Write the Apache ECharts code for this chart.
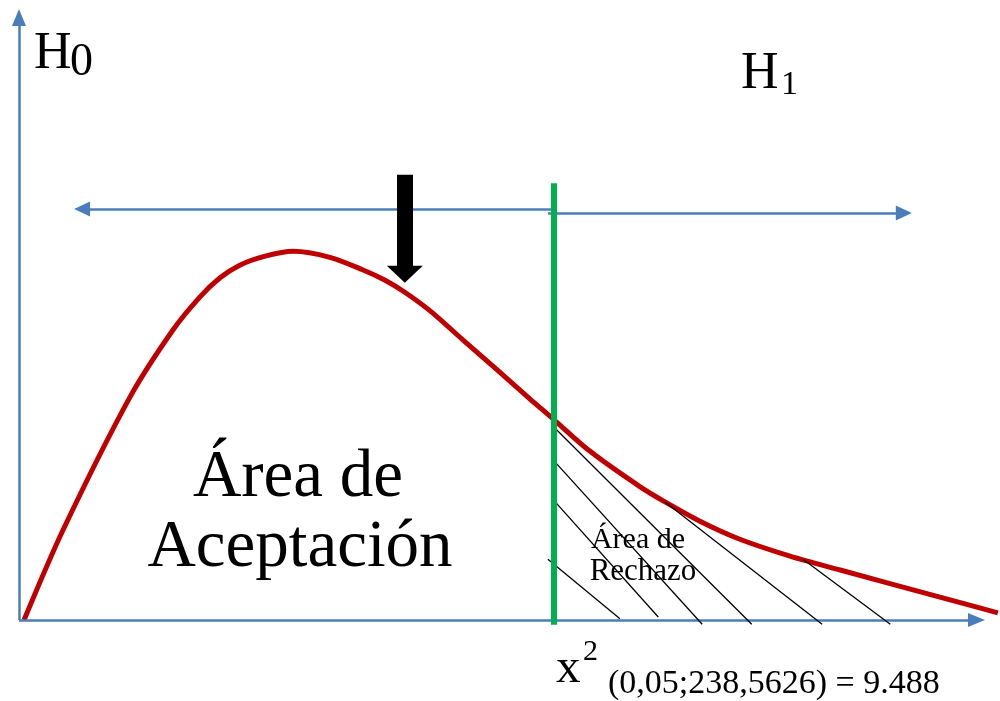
<!DOCTYPE html>
<html>
<head>
<meta charset="utf-8">
<title>Chi cuadrado</title>
<script src="https://cdn.jsdelivr.net/npm/echarts@6/dist/echarts.min.js"></script>
<style>
    html, body { margin: 0; padding: 0; background: #fff; }
    #chart { width: 1000px; height: 701px; }
</style>
</head>
<body>
<div id="chart"></div>
<script>
// curva (x, altura relativa)
var curveX = [0.09, 0.78, 1.97, 2.73, 3.21, 3.57, 3.92, 4.37, 4.87, 5.52, 6.11, 6.50, 6.85, 7.30, 7.88, 8.49, 9.07, 9.48, 10.14, 11.03, 11.47, 12.09, 12.80, 13.69, 14.58, 16.35, 17.38];
var curveY = [0, 14.9, 37.0, 48.1, 53.6, 56.8, 58.9, 60.4, 61.2, 60.2, 58.1, 56.4, 54.4, 51.3, 46.5, 41.5, 36.7, 33.4, 28.0, 22.1, 19.6, 16.4, 13.4, 10.6, 8.3, 3.8, 1.2];

// ejes
var axisXEnd = 17;
var axisYEnd = 100;

// valor critico
var critical = 9.488;
var criticalTop = 72.5;

// flechas H0 / H1  [x inicio, x fin, y]
var arrowH0 = [9.48, 1.12, 68.2];
var arrowH1 = [9.39, 15.71, 67.55];

// flecha negra [x, y inicio, y fin]
var arrowDown = [6.85, 73.9, 57.4];

// rayado area de rechazo [x1, y1, x2, y2]
var hatch = [
    [9.39, 10.1, 10.67, 0.2],
    [9.52, 19.6, 11.35, 0.5],
    [9.52, 26.2, 12.13, -0.7],
    [9.50, 32.0, 13.01, -0.7],
    [11.47, 19.6, 14.26, -0.7],
    [13.92, 10.1, 15.47, -0.7]
];

;(function (window, document) {
    var serif = "'Liberation Serif', 'DejaVu Serif', serif";
    var blue = '#4A7EBB';

    var curve = [];
    for (var i = 0; i < curveX.length; i++) {
        curve.push([curveX[i], curveY[i]]);
    }

    var hatchLines = hatch.map(function (h) {
        return [{coord: [h[0], h[1]]}, {coord: [h[2], h[3]]}];
    });

    // serie vacia que solo dibuja un markLine
    function lineSet(data, color, width, arrowSize) {
        return {
            type: 'line',
            data: [],
            silent: true,
            clip: false,
            markLine: {
                silent: true,
                animation: false,
                symbol: arrowSize ? ['none', 'triangle'] : ['none', 'none'],
                symbolSize: arrowSize || 0,
                label: {show: false},
                lineStyle: {color: color, width: width, type: 'solid', cap: 'butt'},
                itemStyle: {color: color},
                emphasis: {disabled: true},
                data: data
            }
        };
    }

    function txt(text, x, y, size, align) {
        return {
            type: 'text',
            style: {
                text: text,
                x: x,
                y: y,
                fill: '#000',
                font: size + 'px ' + serif,
                align: align || 'left',
                verticalAlign: 'middle'
            }
        };
    }

    var option = {
        animation: false,
        backgroundColor: '#fff',
        grid: {left: 2.1, right: 1, top: 5.45, bottom: 62.9},
        xAxis: {type: 'value', min: -0.3, max: 17.4, show: false},
        yAxis: {type: 'value', min: -3, max: 102, show: false},
        series: [
            // ejes
            lineSet([
                [{coord: [0, 0]}, {coord: [axisXEnd, 0]}],
                [{coord: [0, 0]}, {coord: [0, axisYEnd]}]
            ], blue, 2.5, [14, 17]),
            // rayado
            lineSet(hatchLines, '#000', 1.3),
            // curva
            {
                type: 'line',
                data: curve,
                smooth: 0.3,
                symbol: 'none',
                clip: false,
                silent: true,
                lineStyle: {color: '#C00000', width: 5}
            },
            // flechas azules
            lineSet([
                [{coord: [arrowH0[0], arrowH0[2]]}, {coord: [arrowH0[1], arrowH0[2]]}],
                [{coord: [arrowH1[0], arrowH1[2]]}, {coord: [arrowH1[1], arrowH1[2]]}]
            ], blue, 2.5, [15, 16]),
            // linea del valor critico
            lineSet([[{coord: [critical, -0.8]}, {coord: [critical, criticalTop]}]], '#00B050', 6),
            // flecha negra
            lineSet([[{coord: [arrowDown[0], arrowDown[1]]}, {coord: [arrowDown[0], arrowDown[2]]}]], '#000', 16, [36, 17])
        ],
        graphic: [
            txt('H', 34, 54, 52),
            txt('0', 70, 63, 46),
            txt('H', 741, 74, 52),
            txt('1', 781, 85, 34),
            txt('Área de', 298, 478, 67, 'center'),
            txt('Aceptación', 300, 548, 67, 'center'),
            txt('Área de', 638, 540, 30, 'center'),
            txt('Rechazo', 643, 572, 31, 'center'),
            txt('x', 556, 669, 49),
            txt('2', 583, 652, 30),
            txt('(0,05;238,5626) = 9.488', 608, 684, 34)
        ]
    };

    var myChart = echarts.init(document.getElementById('chart'));
    myChart.setOption(option);
})(window, document);
</script>
</body>
</html>
